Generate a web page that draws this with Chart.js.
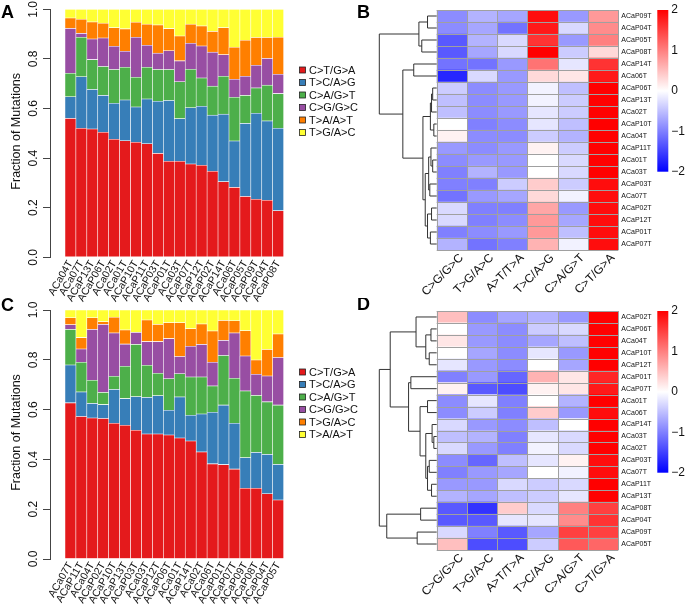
<!DOCTYPE html>
<html>
<head>
<meta charset="utf-8">
<script src="https://cdn.jsdelivr.net/npm/chart.js@4.4.1/dist/chart.umd.min.js"></script>
<style>
  body { margin: 0; background: #fff; }
  #wrap { position: relative; width: 685px; height: 605px; overflow: hidden; }
  canvas { position: absolute; }
</style>
</head>
<body>
<div id="wrap">
  <canvas id="chartA" width="368" height="310" style="left:0;top:0"></canvas>
  <canvas id="chartB" width="343" height="300" style="left:342px;top:0"></canvas>
  <canvas id="chartC" width="368" height="307" style="left:0;top:298px"></canvas>
  <canvas id="chartD" width="343" height="307" style="left:342px;top:298px"></canvas>
</div>
<script>
const FONT = '"Liberation Sans", Arial, Helvetica, sans-serif';
const SET1 = ['#E41A1C', '#377EB8', '#4DAF4A', '#984EA3', '#FF7F00', '#FFFF33'];
const Y_TICKS = [0, 0.2, 0.4, 0.6, 0.8, 1.0];
const SCALE_TICKS = [2, 1, 0, -1, -2];

// ---- panel A
const SAMPLES_A = ['ACa04T', 'ACa07T', 'ACaP13T', 'ACaP06T', 'ACa02T', 'ACa01T', 'ACaP10T', 'ACaP11T', 'ACaP03T', 'ACaP01T',
    'ACa03T', 'ACaP07T', 'ACaP12T', 'ACaP02T', 'ACaP14T', 'ACa06T', 'ACaP05T', 'ACaP09T', 'ACaP04T', 'ACaP08T'];
const TYPES_A = ['C>T/G>A', 'T>C/A>G', 'C>A/G>T', 'C>G/G>C', 'T>A/A>T', 'T>G/A>C'];
const A_CT = [.560, .520, .517, .504, .476, .470, .464, .458, .419, .387, .387, .376, .371, .347, .305, .282, .245, .234, .230, .188];
const A_TC = [.087, .208, .160, .149, .145, .164, .142, .180, .210, .245, .172, .227, .238, .226, .272, .187, .295, .347, .320, .332];
const A_CA = [.095, .159, .120, .116, .136, .132, .120, .128, .128, .125, .149, .155, .114, .117, .153, .176, .113, .102, .144, .140];
const A_CG = [.181, .016, .083, .115, .094, .065, .161, .089, .066, .076, .084, .105, .129, .137, .087, .073, .077, .091, .108, .078];
const A_TA = [.042, .057, .069, .060, .075, .090, .061, .085, .114, .089, .100, .077, .081, .084, .109, .129, .145, .112, .084, .149];
const A_TG = [.035, .040, .051, .056, .074, .079, .052, .060, .063, .078, .108, .060, .067, .089, .074, .153, .125, .114, .114, .113];

// ---- panel C
const SAMPLES_C = ['ACa07T', 'ACaP11T', 'ACa04T', 'ACaP02T', 'ACaP10T', 'ACaP13T', 'ACaP03T', 'ACa03T', 'ACaP12T', 'ACaP06T',
    'ACa01T', 'ACaP14T', 'ACa02T', 'ACa06T', 'ACaP01T', 'ACaP07T', 'ACaP09T', 'ACaP08T', 'ACaP04T', 'ACaP05T'];
const TYPES_C = ['C>T/G>A', 'T>C/A>G', 'C>A/G>T', 'C>G/G>C', 'T>G/A>C', 'T>A/A>T'];
const C_CT = [.627, .572, .566, .564, .545, .537, .517, .502, .502, .498, .486, .474, .430, .382, .379, .361, .284, .284, .262, .237];
const C_TC = [.152, .099, .059, .056, .136, .107, .135, .147, .154, .099, .165, .103, .152, .207, .239, .184, .123, .144, .158, .143];
const C_CA = [.143, .119, .093, .049, .053, .130, .210, .129, .090, .127, .093, .154, .149, .106, .199, .181, .268, .229, .211, .238];
const C_CG = [.019, .053, .204, .273, .174, .089, .048, .095, .127, .161, .069, .123, .131, .095, .061, .182, .140, .085, .104, .191];
const C_TG = [.028, .046, .047, .011, .063, .057, .000, .087, .069, .064, .136, .071, .082, .126, .080, .049, .102, .057, .106, .095];
const C_TA = [.031, .111, .031, .047, .029, .080, .090, .040, .058, .051, .051, .075, .056, .084, .042, .043, .083, .201, .159, .096];

// ---- heatmaps
const COLS = ['C>G/G>C', 'T>G/A>C', 'A>T/T>A', 'T>C/A>G', 'C>A/G>T', 'C>T/G>A'];

const ROWS_B = ['ACaP09T', 'ACaP04T', 'ACaP05T', 'ACaP08T', 'ACaP14T', 'ACa06T', 'ACaP06T', 'ACaP13T', 'ACa02T', 'ACaP10T',
    'ACa04T', 'ACaP11T', 'ACa01T', 'ACa03T', 'ACaP03T', 'ACa07T', 'ACaP02T', 'ACaP12T', 'ACaP01T', 'ACaP07T'];
const Z_B = [
    [-0.9, -0.6, -0.7, 1.9, -0.8, 0.8],
    [-0.9, -0.7, -1.1, 1.8, -0.3, 0.9],
    [-1.3, -0.6, -0.3, 1.6, -0.8, 1.0],
    [-1.3, -0.7, -0.3, 2.0, -0.4, 0.3],
    [-1.1, -1.1, -0.8, 1.1, -0.2, 1.6],
    [-1.7, -0.3, -0.8, 0.3, 0.2, 1.8],
    [-0.4, -0.9, -0.8, -0.1, -0.5, 2.0],
    [-0.5, -0.9, -0.8, -0.1, -0.4, 2.0],
    [-0.5, -0.9, -0.8, -0.2, -0.4, 2.0],
    [0.0, -1.0, -0.9, -0.2, -0.5, 2.0],
    [0.1, -0.9, -0.9, -0.4, -0.6, 2.0],
    [-0.8, -0.9, -0.8, 0.1, -0.4, 2.0],
    [-0.9, -0.8, -0.8, 0.0, -0.3, 2.0],
    [-1.0, -0.6, -0.8, 0.0, -0.3, 2.0],
    [-1.0, -1.0, -0.4, 0.4, -0.4, 1.9],
    [-1.1, -0.8, -0.7, 0.3, -0.1, 1.9],
    [-0.3, -1.0, -1.0, 0.7, -0.8, 1.9],
    [-0.3, -1.0, -0.9, 0.8, -0.7, 1.9],
    [-1.0, -0.9, -0.8, 0.8, -0.5, 1.9],
    [-0.6, -1.1, -1.0, 0.6, -0.1, 1.9]
];
// merges: negative = leaf (1-based row), positive = earlier merge; last = height (0 leaves .. 1 root)
const TREE_B = [
    [-1, -2, .16], [-3, -4, .26], [1, 2, .31], [-5, -6, .40],
    [-7, -8, .07], [5, -9, .09], [-10, -11, .05], [6, 7, .11],
    [-13, -14, .07], [-12, 9, .10], [-15, -16, .12], [10, 11, .14],
    [-17, -18, .09], [-19, -20, .11], [13, 14, .16], [12, 15, .20],
    [8, 16, .24], [4, 17, .59], [3, 18, 1]
];

const ROWS_D = ['ACaP02T', 'ACaP06T', 'ACa04T', 'ACaP10T', 'ACaP12T', 'ACaP01T', 'ACaP07T', 'ACa01T', 'ACa06T', 'ACaP14T',
    'ACa03T', 'ACa02T', 'ACaP03T', 'ACa07T', 'ACaP11T', 'ACaP13T', 'ACaP08T', 'ACaP04T', 'ACaP09T', 'ACaP05T'];
const Z_D = [
    [0.5, -0.9, -0.7, -0.6, -0.8, 2.0],
    [0.0, -0.8, -0.9, -0.4, -0.3, 2.0],
    [0.2, -0.8, -0.9, -0.7, -0.5, 2.0],
    [0.0, -0.7, -0.9, -0.2, -0.8, 2.0],
    [-0.2, -0.8, -0.9, 0.0, -0.7, 2.0],
    [-1.0, -0.8, -1.2, 0.6, 0.2, 1.7],
    [0.1, -1.3, -1.4, 0.1, 0.2, 1.8],
    [-0.9, -0.2, -1.0, 0.0, -0.6, 2.0],
    [-0.9, -0.4, -1.0, 0.4, -0.8, 1.9],
    [-0.3, -0.8, -0.9, -0.5, 0.0, 2.0],
    [-0.5, -0.6, -1.0, -0.2, -0.3, 2.0],
    [-0.3, -0.8, -1.0, -0.1, -0.3, 2.0],
    [-0.9, -1.2, -0.5, -0.2, 0.1, 1.9],
    [-1.0, -0.8, -0.7, 0.0, -0.1, 1.9],
    [-0.8, -0.8, -0.3, -0.4, -0.3, 2.0],
    [-0.6, -0.7, -0.5, -0.4, -0.2, 2.0],
    [-1.3, -1.6, 0.4, -0.3, 1.0, 1.5],
    [-1.3, -1.3, -0.2, -0.2, 0.9, 1.6],
    [-0.3, -1.0, -1.3, -0.7, 1.5, 1.5],
    [0.5, -1.4, -1.4, -0.4, 1.3, 1.2]
];
const TREE_D = [
    [-2, -3, .10], [-4, -5, .13], [1, 2, .19], [-1, 3, .36],
    [-6, -7, .45], [-8, -9, .16], [-11, -12, .05], [-10, 7, .08],
    [-13, -14, .13], [-15, -16, .09], [9, 10, .16], [8, 11, .19],
    [6, 12, .29], [5, 13, .49], [4, 14, .81],
    [-17, -18, .28], [-19, -20, .34], [16, 17, .87], [15, 18, 1]
];

Chart.defaults.font.family = FONT;
Chart.defaults.color = '#000';

function zColor(z) {
    const t = Math.max(-1, Math.min(1, z / 2));
    if (t < 0) {
        const c = Math.round(255 * (1 + t));
        return `rgb(${c},${c},255)`;
    }
    const c = Math.round(255 * (1 - t));
    return `rgb(255,${c},${c})`;
}

function letter(ctx, txt, x, y) {
    ctx.save();
    ctx.font = `bold 18px ${FONT}`;
    ctx.fillStyle = '#000';
    ctx.textAlign = 'left';
    ctx.textBaseline = 'alphabetic';
    ctx.fillText(txt, x, y);
    ctx.restore();
}

function stackChart(id, cfg) {
    const { samples, series, names, top, xh, legendY, tag, tagY } = cfg;
    const W = 368;
    return new Chart(document.getElementById(id), {
        type: 'bar',
        data: {
            datasets: series.map((vals, k) => ({
                label: names[k],
                data: vals.map((v, i) => ({ x: i + 0.5, y: v })),
                backgroundColor: SET1[k],
                borderColor: 'rgba(255,255,255,0.75)',
                borderWidth: 0.6,
                borderSkipped: false,
                barPercentage: 1,
                categoryPercentage: 1
            }))
        },
        options: {
            responsive: false,
            animation: false,
            layout: { padding: { left: 0, right: W - 298.6, top, bottom: 0 } },
            plugins: { legend: { display: false }, tooltip: { enabled: false } },
            scales: {
                x: {
                    type: 'linear', min: -0.8, max: 20.8, stacked: true,
                    grid: { display: false, drawTicks: false },
                    border: { display: false },
                    afterBuildTicks: s => { s.ticks = samples.map((n, i) => ({ value: i + 0.5 })); },
                    afterFit: s => { s.height = xh; },
                    ticks: {
                        autoSkip: false, minRotation: 60, maxRotation: 60, padding: 1,
                        font: { size: 10.5 }, color: '#111',
                        callback: (v, i) => samples[i]
                    }
                },
                y: {
                    min: 0, max: 1, stacked: true,
                    afterFit: s => { s.width = 50; },
                    afterBuildTicks: s => { s.ticks = Y_TICKS.map(v => ({ value: v })); },
                    grid: { drawOnChartArea: false, drawTicks: true, tickLength: 7, color: '#444' },
                    border: { display: true, color: '#444' },
                    ticks: { display: false }
                }
            }
        },
        plugins: [{
            id: 'rDecor',
            afterDraw: (chart) => {
                const { ctx, scales } = chart;
                ctx.save();
                ctx.fillStyle = '#111';
                ctx.font = `12px ${FONT}`;
                ctx.textAlign = 'center';
                ctx.textBaseline = 'middle';
                Y_TICKS.forEach(v => {
                    const y = scales.y.getPixelForValue(v);
                    ctx.save();
                    ctx.translate(34, y);
                    ctx.rotate(-Math.PI / 2);
                    ctx.fillText(v.toFixed(1), 0, 0);
                    ctx.restore();
                });
                // axis title
                const mid = (scales.y.top + scales.y.bottom) / 2 - 2;
                ctx.save();
                ctx.translate(17, mid);
                ctx.rotate(-Math.PI / 2);
                ctx.font = `12.5px ${FONT}`;
                ctx.fillText('Fraction of Mutations', 0, 0);
                ctx.restore();
                // legend
                ctx.textAlign = 'left';
                ctx.font = `11px ${FONT}`;
                names.forEach((n, k) => {
                    const y = legendY + k * 12.5;
                    ctx.fillStyle = SET1[k];
                    ctx.fillRect(299.5, y - 3, 6, 6);
                    ctx.strokeStyle = '#222';
                    ctx.lineWidth = 0.8;
                    ctx.strokeRect(299.5, y - 3, 6, 6);
                    ctx.fillStyle = '#111';
                    ctx.fillText(n, 309, y + 0.5);
                });
                ctx.restore();
                letter(ctx, tag, 1, tagY);
            }
        }]
    });
}

function heatmap(id, cfg) {
    const { rows, z, tree, top, xh, tag, tagY } = cfg;
    const W = 343;
    const rootX = 379.3 - 342;
    const barX = 657.3 - 342;
    return new Chart(document.getElementById(id), {
        type: 'bar',
        data: {
            labels: rows,
            datasets: COLS.map((c, j) => ({
                label: c,
                data: rows.map(() => 1),
                backgroundColor: z.map(r => zColor(r[j])),
                borderWidth: 0,
                barPercentage: 1,
                categoryPercentage: 1
            }))
        },
        options: {
            indexAxis: 'y',
            responsive: false,
            animation: false,
            layout: { padding: { left: 436.7 - 342, right: 0, top, bottom: 0 } },
            plugins: { legend: { display: false }, tooltip: { enabled: false } },
            scales: {
                x: {
                    type: 'linear', min: 0, max: 6, stacked: true,
                    grid: { display: false, drawTicks: false },
                    border: { display: false },
                    // label anchors sit a little right of the cell centres, as pheatmap places them
                    afterBuildTicks: s => { s.ticks = COLS.map((c, i) => ({ value: i + 0.82 })); },
                    afterFit: s => { s.height = xh; },
                    ticks: {
                        autoSkip: false, minRotation: 45, maxRotation: 45, padding: 1,
                        font: { size: 12 }, color: '#111',
                        callback: (v, i) => COLS[i]
                    }
                },
                y: {
                    position: 'right', stacked: true,
                    grid: { display: false, drawTicks: false },
                    border: { display: false },
                    afterFit: s => { s.width = W - (618.3 - 342); },
                    ticks: { autoSkip: false, padding: 3, font: { size: 7 }, color: '#111' }
                }
            }
        },
        plugins: [{
            id: 'heatDecor',
            afterDatasetsDraw: (chart) => {
                const { ctx, chartArea: a, scales } = chart;
                const h = (a.bottom - a.top) / rows.length;
                ctx.save();
                ctx.strokeStyle = '#a0a0a0';
                ctx.lineWidth = 1;
                ctx.beginPath();
                for (let i = 0; i <= rows.length; i++) {
                    const y = Math.round(a.top + i * h) + 0.5;
                    ctx.moveTo(a.left, y); ctx.lineTo(a.right, y);
                }
                for (let j = 0; j <= COLS.length; j++) {
                    const x = Math.round(scales.x.getPixelForValue(j)) + 0.5;
                    ctx.moveTo(x, a.top); ctx.lineTo(x, a.bottom);
                }
                ctx.stroke();
                ctx.restore();
            },
            afterDraw: (chart) => {
                const { ctx, chartArea: a, scales } = chart;
                // dendrogram
                const leafX = a.left;
                const nodes = [];
                const get = k => k < 0 ? { x: leafX, y: scales.y.getPixelForValue(-k - 1) } : nodes[k - 1];
                ctx.save();
                ctx.strokeStyle = '#333';
                ctx.lineWidth = 1;
                ctx.beginPath();
                tree.forEach(([p, q, hgt]) => {
                    const A = get(p), B = get(q);
                    const x = leafX - hgt * (leafX - rootX);
                    ctx.moveTo(A.x, A.y); ctx.lineTo(x, A.y);
                    ctx.lineTo(x, B.y); ctx.lineTo(B.x, B.y);
                    nodes.push({ x, y: (A.y + B.y) / 2 });
                });
                ctx.stroke();
                // colour key
                const kTop = a.top, kBot = a.top + 161.7;
                const g = ctx.createLinearGradient(0, kTop, 0, kBot);
                g.addColorStop(0, zColor(2));
                g.addColorStop(0.5, zColor(0));
                g.addColorStop(1, zColor(-2));
                ctx.fillStyle = g;
                ctx.fillRect(barX, kTop, 11, kBot - kTop);
                ctx.fillStyle = '#111';
                ctx.font = `12px ${FONT}`;
                ctx.textAlign = 'left';
                ctx.textBaseline = 'middle';
                SCALE_TICKS.forEach(v => {
                    const y = kTop + (2 - v) / 4 * (kBot - kTop);
                    ctx.fillText(v < 0 ? '\u2212' + Math.abs(v) : String(v), barX + 14, y);
                });
                ctx.restore();
                letter(ctx, tag, 15, tagY);
            }
        }]
    });
}

stackChart('chartA', {
    samples: SAMPLES_A, series: [A_CT, A_TC, A_CA, A_CG, A_TA, A_TG], names: TYPES_A,
    top: 9.3, xh: 310 - 257.3, legendY: 70, tag: 'A', tagY: 18
});
stackChart('chartC', {
    samples: SAMPLES_C, series: [C_CT, C_TC, C_CA, C_CG, C_TG, C_TA], names: TYPES_C,
    top: 310 - 298, xh: 307 - (559 - 298), legendY: 372 - 298, tag: 'C', tagY: 13
});
heatmap('chartB', { rows: ROWS_B, z: Z_B, tree: TREE_B, top: 10, xh: 50, tag: 'B', tagY: 18 });
heatmap('chartD', { rows: ROWS_D, z: Z_D, tree: TREE_D, top: 311 - 298, xh: 307 - (550 - 298), tag: 'D', tagY: 12 });
</script>
</body>
</html>
